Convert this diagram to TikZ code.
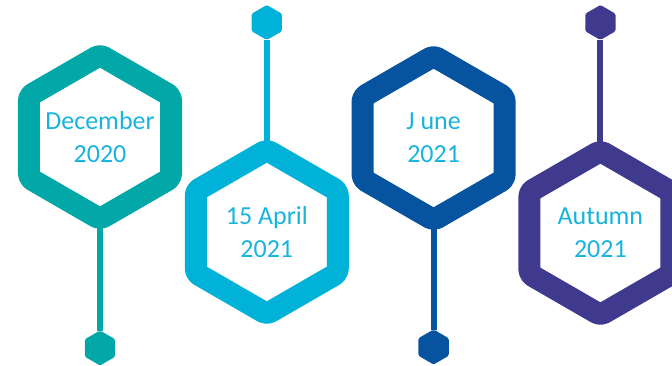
\documentclass[tikz,border=0pt]{standalone}
\usepackage{fontspec}
\setmainfont{Carlito}
\usetikzlibrary{shapes.geometric}
\definecolor{tealhex}{RGB}{2,168,168}
\definecolor{skyhex}{RGB}{0,178,215}
\definecolor{navyhex}{RGB}{6,84,160}
\definecolor{violethex}{RGB}{64,58,142}
\definecolor{datetext}{RGB}{24,180,222}
\tikzset{
  bighex/.style={regular polygon, regular polygon sides=6, shape border rotate=90,
    minimum size=164pt, inner sep=0pt, outer sep=0pt, line width=22pt,
    line join=round, rounded corners=4pt, fill=white, draw=#1},
  smallhex/.style={regular polygon, regular polygon sides=6, shape border rotate=90,
    minimum size=35pt, inner sep=0pt, outer sep=0pt, fill=#1, rounded corners=1.5pt},
  datelabel/.style={text=datetext, align=center, inner sep=0pt,
    font=\fontsize{26}{33}\selectfont},
  stem/.style={line width=6pt, draw=#1}
}
\begin{document}
\begin{tikzpicture}[x=1pt, y=-1pt]
    \useasboundingbox (0,0) rectangle (672,366);
    \clip (0,0) rectangle (672,366);
    % big hexagons
    \node[bighex=tealhex] (dec) at (100,137) {};
    \node[bighex=skyhex] (apr) at (266.8,232) {};
    \node[bighex=navyhex] (jun) at (433.6,138) {};
    \node[bighex=violethex] (aut) at (600.4,233) {};
    \node[datelabel] (dectext) at (dec) {December\\2020};
    \node[datelabel] (aprtext) at (apr) {15 April\\2021};
    \node[datelabel] (juntext) at (jun) {J une\\2021};
    \node[datelabel] (auttext) at (aut) {Autumn\\2021};
    % small hexagons
    \node[smallhex=tealhex] (decend) at (100,348) {};
    \node[smallhex=skyhex] (aprend) at (266.8,22.5) {};
    \node[smallhex=navyhex] (junend) at (433.6,347) {};
    \node[smallhex=violethex] (autend) at (600.4,22.5) {};
    % stems
    \draw[stem=tealhex] (dec) -- (decend);
    \draw[stem=skyhex] (apr) -- (aprend);
    \draw[stem=navyhex] (jun) -- (junend);
    \draw[stem=violethex] (aut) -- (autend);
\end{tikzpicture}
\end{document}
